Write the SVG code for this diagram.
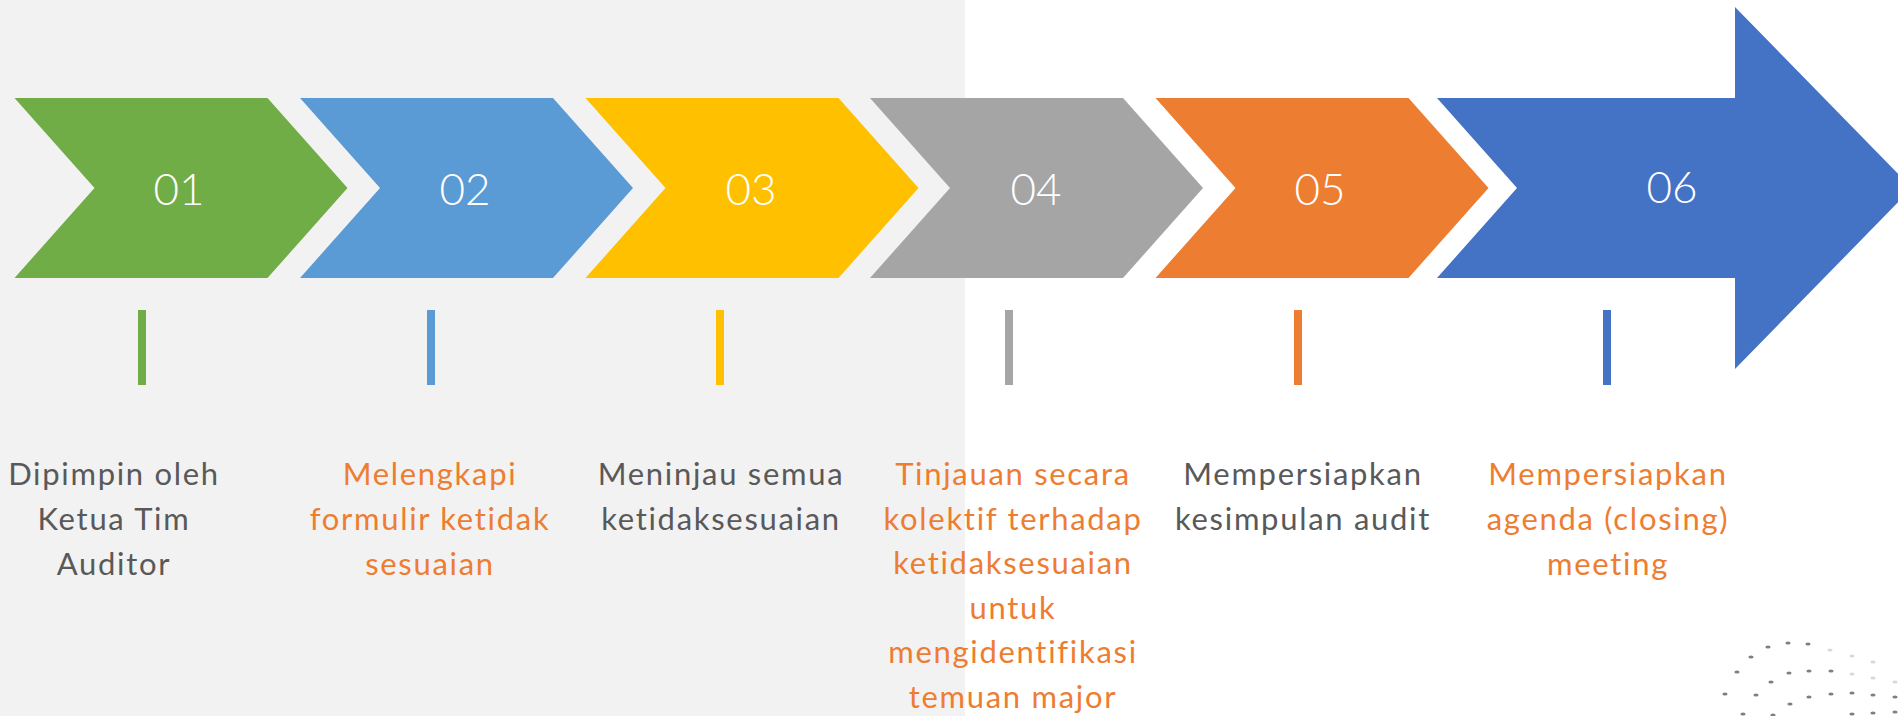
<svg xmlns="http://www.w3.org/2000/svg" width="1898" height="716" viewBox="0 0 1898 716">
<style>
.num{font-family:Lato,"Open Sans",sans-serif;font-weight:300;font-size:44px;fill:#ffffff;text-anchor:middle}
.lbl{font-family:Lato,"Open Sans",sans-serif;font-size:31px;letter-spacing:1.7px;text-anchor:middle}
.g{fill:#595959}
.o{fill:#ED7D31}
.dot{fill:#7f7f7f}
.fd{fill:#d9d9d9}
</style>
<defs>
<polygon id="chev" points="0,98 253,98 333,188 253,278 0,278 80,188"/>
<ellipse id="d" rx="2.6" ry="1.6"/>
</defs>
<rect x="0" y="0" width="1898" height="716" fill="#ffffff"/>
<rect x="0" y="0" width="965" height="716" fill="#F2F2F2"/>

<g id="decor">
<g class="dot">
<use href="#d" x="1768" y="647"/><use href="#d" x="1788" y="643"/><use href="#d" x="1808" y="644"/>
<use href="#d" x="1751" y="657"/><use href="#d" x="1737" y="672"/><use href="#d" x="1789" y="673"/><use href="#d" x="1809" y="671"/><use href="#d" x="1831" y="671"/>
<use href="#d" x="1771" y="682"/><use href="#d" x="1725" y="694"/><use href="#d" x="1756" y="695"/><use href="#d" x="1809" y="697"/><use href="#d" x="1831" y="694"/><use href="#d" x="1852" y="693"/><use href="#d" x="1873" y="695"/><use href="#d" x="1895" y="697"/>
<use href="#d" x="1790" y="704"/><use href="#d" x="1743" y="714"/><use href="#d" x="1773" y="715"/><use href="#d" x="1852" y="714"/><use href="#d" x="1873" y="713"/><use href="#d" x="1895" y="712"/>
</g>
<g class="fd">
<use href="#d" x="1830" y="650"/><use href="#d" x="1852" y="656"/><use href="#d" x="1873" y="662"/>
<use href="#d" x="1852" y="674"/><use href="#d" x="1873" y="678"/><use href="#d" x="1895" y="682"/>
</g>
</g>

<g id="step1">
<use href="#chev" x="14.5" fill="#70AD47"/>
<text class="num" x="179" y="205">01</text>
<rect x="138" y="310" width="8" height="75" fill="#70AD47"/>
<text class="lbl g" x="114"><tspan x="114" y="485">Dipimpin oleh</tspan><tspan x="114" y="530">Ketua Tim</tspan><tspan x="114" y="575">Auditor</tspan></text>
</g>

<g id="step2">
<use href="#chev" x="300" fill="#5B9BD5"/>
<text class="num" x="465" y="205">02</text>
<rect x="427" y="310" width="8" height="75" fill="#5B9BD5"/>
<text class="lbl o" x="430"><tspan x="430" y="485">Melengkapi</tspan><tspan x="430" y="530">formulir ketidak</tspan><tspan x="430" y="575">sesuaian</tspan></text>
</g>

<g id="step3">
<use href="#chev" x="585.5" fill="#FFC000"/>
<text class="num" x="751" y="205">03</text>
<rect x="716" y="310" width="8" height="75" fill="#FFC000"/>
<text class="lbl g" x="721"><tspan x="721" y="485">Meninjau semua</tspan><tspan x="721" y="530">ketidaksesuaian</tspan></text>
</g>

<g id="step4">
<use href="#chev" x="870" fill="#A5A5A5"/>
<text class="num" x="1036" y="205">04</text>
<rect x="1005" y="310" width="8" height="75" fill="#A5A5A5"/>
<text class="lbl o" x="1013"><tspan x="1013" y="485">Tinjauan secara</tspan><tspan x="1013" y="530">kolektif terhadap</tspan><tspan x="1013" y="574">ketidaksesuaian</tspan><tspan x="1013" y="619">untuk</tspan><tspan x="1013" y="663">mengidentifikasi</tspan><tspan x="1013" y="708">temuan major</tspan></text>
</g>

<g id="step5">
<use href="#chev" x="1155.5" fill="#ED7D31"/>
<text class="num" x="1320" y="205">05</text>
<rect x="1294" y="310" width="8" height="75" fill="#ED7D31"/>
<text class="lbl g" x="1303"><tspan x="1303" y="485">Mempersiapkan</tspan><tspan x="1303" y="530">kesimpulan audit</tspan></text>
</g>

<g id="step6">
<polygon points="1437,98 1735,98 1735,7 1912,188 1735,369 1735,278 1437,278 1517,188" fill="#4472C4"/>
<text class="num" x="1672" y="203">06</text>
<rect x="1603" y="310" width="8" height="75" fill="#4472C4"/>
<text class="lbl o" x="1608"><tspan x="1608" y="485">Mempersiapkan</tspan><tspan x="1608" y="530">agenda (closing)</tspan><tspan x="1608" y="575">meeting</tspan></text>
</g>

<g id="connectors"></g>
</svg>
